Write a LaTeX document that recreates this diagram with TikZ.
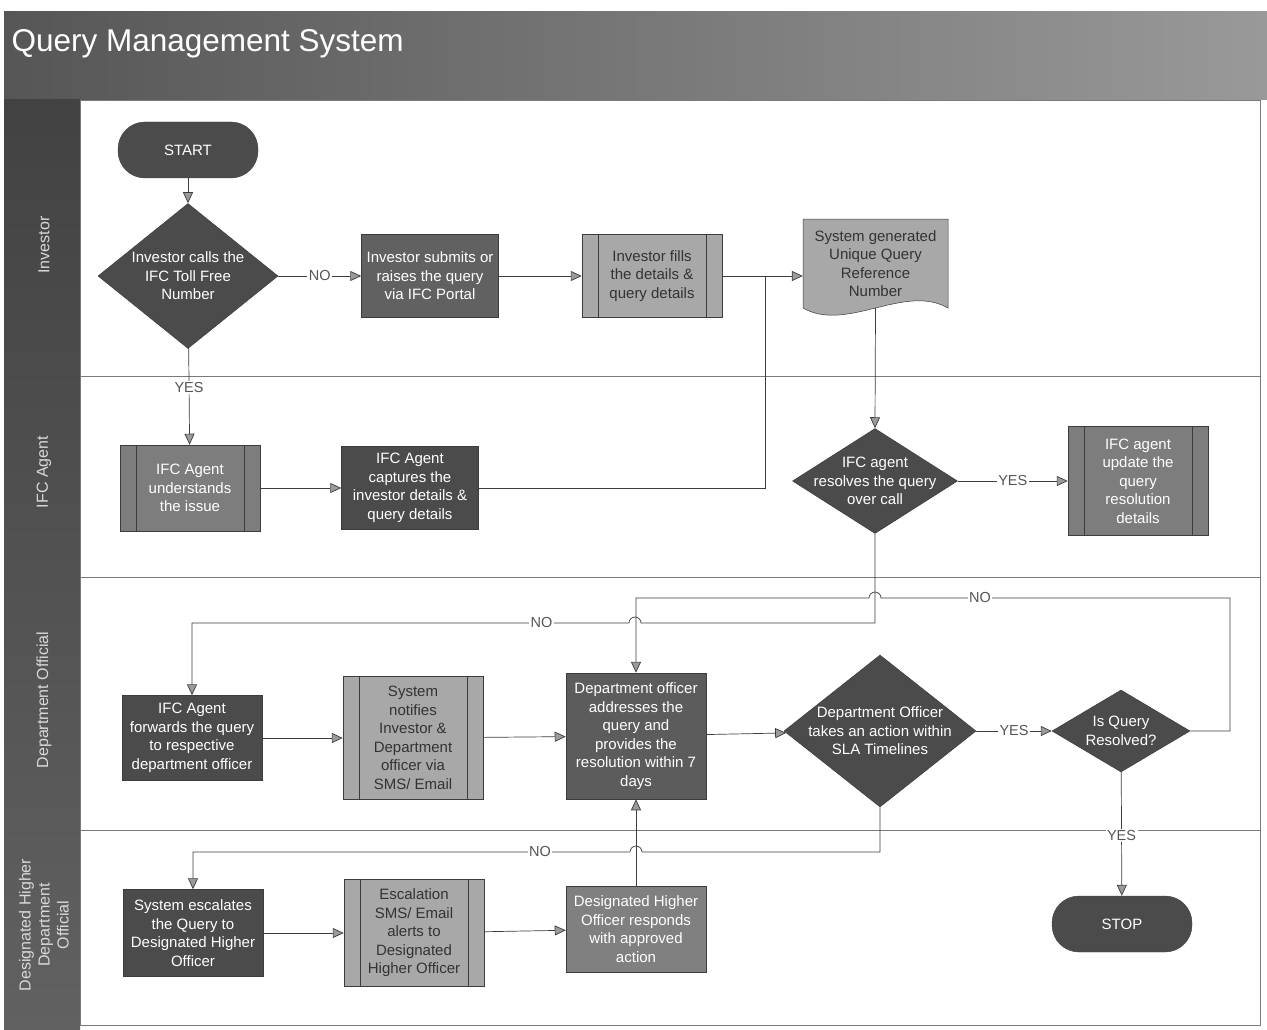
\documentclass[tikz,border=0pt]{standalone}
\usepackage{fontspec}
\setmainfont{Liberation Sans}
\usetikzlibrary{arrows.meta,shapes.geometric,calc}
\definecolor{dk}{HTML}{4B4B4B}
\definecolor{md}{HTML}{7D7D7D}
\definecolor{lt}{HTML}{A8A8A8}
\definecolor{edgec}{HTML}{3C3C3C}
\definecolor{tipc}{HTML}{9A9A9A}
\definecolor{lanec}{HTML}{7A7A7A}
\definecolor{lbltext}{HTML}{555555}
\definecolor{ltext}{HTML}{333333}
\definecolor{colc}{HTML}{565656}
\begin{document}
\begin{tikzpicture}[x=1pt,y=-1pt,
  nfont/.style={font=\fontsize{15}{18.5}\selectfont},
  box/.style={rectangle, draw=edgec, line width=0.5pt, minimum width=140pt, minimum height=85pt, inner sep=1pt, align=center, text=white, nfont},
  darkbox/.style={box, fill=dk},
  midbox/.style={box, fill=md},
  lightbox/.style={box, fill=lt, text=ltext},
  predef/.style={path picture={
      \draw[edgec, line width=0.5pt] ([xshift=16pt]path picture bounding box.north west) -- ([xshift=16pt]path picture bounding box.south west);
      \draw[edgec, line width=0.5pt] ([xshift=-16pt]path picture bounding box.north east) -- ([xshift=-16pt]path picture bounding box.south east);}},
  term/.style={rectangle, rounded corners=27pt, draw=edgec, fill=dk, minimum width=140pt, minimum height=56pt, text=white, nfont},
  dia/.style={diamond, draw=edgec, line width=0.5pt, fill=dk, inner sep=0pt},
  dtext/.style={align=center, text=white, nfont, inner sep=0pt},
  arr/.style={draw=edgec, line width=0.7pt, -{Triangle[length=11pt,width=10pt,fill=tipc]}},
  lbl/.style={fill=white, inner sep=1.5pt, text=lbltext, font=\fontsize{14.5}{16}\selectfont},
  lane/.style={draw=lanec, line width=0.6pt},
  lanelbl/.style={rotate=90, text=white!85!black, font=\fontsize{16}{19}\selectfont, align=center}
]
\useasboundingbox (0,0) rectangle (1267,1030);
% title band and lane column
\shade[left color=colc, right color=black!40] (4,12) rectangle (1267,100);
\shade[top color=black!74, bottom color=black!62] (4,100) rectangle (80,1030);
\node[anchor=west, text=white, font=\fontsize{31.5}{36}\selectfont] (title) at (8,44) {Query Management System};
% content frame and lane separators
\draw[lane] (80,100) rectangle (1260,1025);
\draw[lane] (80,376) -- (1260,376);
\draw[lane] (80,577) -- (1260,577);
\draw[lane] (80,830) -- (1260,830);
% lane labels
\node[lanelbl] (l1) at (44,245) {Investor};
\node[lanelbl] (l2) at (44,472) {IFC Agent};
\node[lanelbl] (l3) at (44,700) {Department Official};
\node[lanelbl] (l4) at (44,925) {Designated Higher\\Department\\Official};
% document shape outline
\filldraw[fill=lt, draw=edgec, line width=0.5pt] (803,219) -- (948,219) -- (948,308) .. controls (904.5,283) and (846.5,333) .. (803,308) -- cycle;
% nodes
\node[term] (start) at (188,150) {START};
\node[dia, minimum width=180pt, minimum height=145pt, label={[dtext]center:{Investor calls the\\IFC Toll Free\\Number}}] (d1) at (188,276) {};
\node[darkbox, fill=black!62, minimum width=137pt, minimum height=83pt] (b1) at (430,276) {Investor submits or\\raises the query\\via IFC Portal};
\node[lightbox, predef, minimum height=83pt] (b2) at (652,276) {Investor fills\\the details \&\\query details};
\node[rectangle, minimum width=145pt, minimum height=89pt, align=center, text=ltext, nfont] (doc) at (875.5,263.5) {System generated\\Unique Query\\Reference\\Number};
\coordinate (j1) at (765,276);
\node[midbox, predef, minimum height=86pt] (u) at (190,488) {IFC Agent\\understands\\the issue};
\node[darkbox, minimum width=137pt, minimum height=83pt] (c) at (410,488) {IFC Agent\\captures the\\investor details \&\\query details};
\node[dia, minimum width=165pt, minimum height=105pt, label={[dtext]center:{IFC agent\\resolves the query\\over call}}] (d2) at (875,481) {};
\node[midbox, predef, minimum height=109pt] (upd) at (1138,481) {IFC agent\\update the\\query\\resolution\\details};
\node[darkbox] (f) at (192,738) {IFC Agent\\forwards the query\\to respective\\department officer};
\node[lightbox, predef, minimum height=123pt] (n) at (413,738) {System\\notifies\\Investor \&\\Department\\officer via\\SMS/ Email};
\node[darkbox, fill=black!64, minimum height=126pt] (a) at (636,736) {Department officer\\addresses the\\query and\\provides the\\resolution within 7\\days};
\node[dia, minimum width=192pt, minimum height=152pt, label={[dtext]center:{Department Officer\\takes an action within\\SLA Timelines}}] (d3) at (880,731) {};
\node[dia, minimum width=138pt, minimum height=82pt, label={[dtext]center:{Is Query\\Resolved?}}] (d4) at (1121,731) {};
\node[term] (stop) at (1122,924) {STOP};
\node[darkbox, minimum height=87pt] (e) at (193,933) {System escalates\\the Query to\\Designated Higher\\Officer};
\node[lightbox, predef, minimum height=107pt] (s) at (414,933) {Escalation\\SMS/ Email\\alerts to\\Designated\\Higher Officer};
\node[midbox, fill=black!50, minimum height=86pt] (r) at (636,929) {Designated Higher\\Officer responds\\with approved\\action};
% connectors
\draw[arr] (start) -- (d1);
\draw[arr] (d1) -- node[lbl]{NO} (b1);
\draw[arr] (b1) -- (b2);
\draw[arr] (b2.east) -- (b2.east -| doc.west);
\draw[draw=edgec, line width=0.7pt] (c.east) -| (j1);
\draw[arr] (d1) -- node[lbl, pos=0.41]{YES} (u);
\draw[arr] (u) -- (c);
\draw[arr] (doc.south) -- (d2.north);
\draw[arr] (d2) -- node[lbl]{YES} (upd);
\draw[arr] (d2.south) -- (875,623) -- (641,623) arc[start angle=0, end angle=180, radius=6pt] -- node[lbl, pos=0.2]{NO} (192,623) -- (f.north);
\draw[arr] (d4.east) -- (1230,731) -- (1230,598) -- node[lbl, pos=0.716]{NO} (881,598) arc[start angle=0, end angle=180, radius=6pt] -- (636,598) -- (a.north);
\draw[arr] (f) -- (n);
\draw[arr] (n) -- (a);
\draw[arr] (a) -- (d3);
\draw[arr] (d3) -- node[lbl]{YES} (d4);
\draw[arr] (d4) -- node[lbl, pos=0.51]{YES} (stop);
\draw[arr] (d3.south) -- (880,852) -- (642,852) arc[start angle=0, end angle=180, radius=6pt] -- node[lbl, pos=0.206]{NO} (193,852) -- (e.north);
\draw[arr] (e) -- (s);
\draw[arr] (s) -- (r);
\draw[arr] (r) -- (a);
\end{tikzpicture}
\end{document}
